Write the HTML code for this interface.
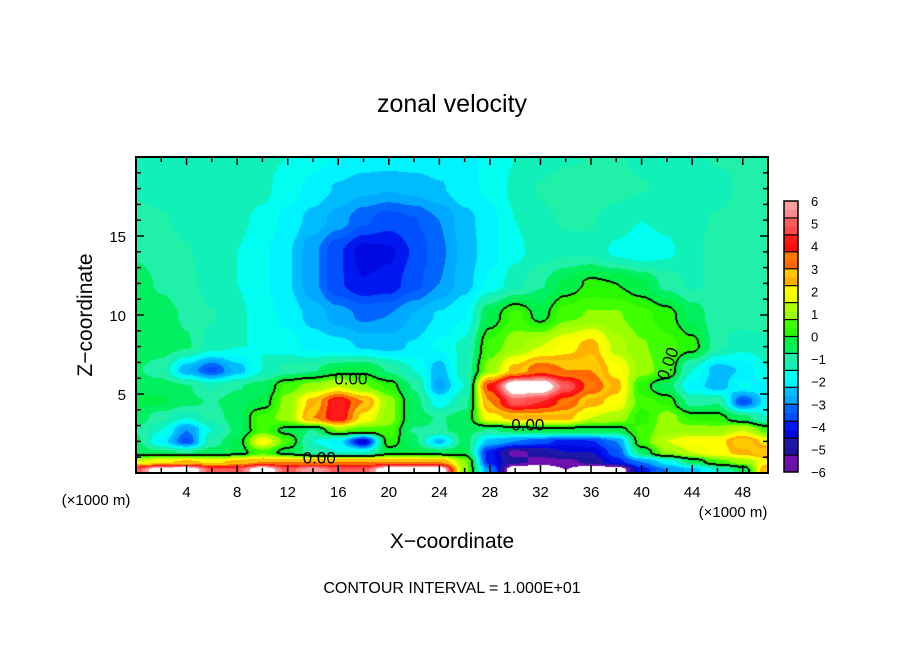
<!DOCTYPE html>
<html><head><meta charset="utf-8"><style>
html,body{margin:0;padding:0;background:#fff;width:904px;height:654px;overflow:hidden}
#wrap{position:relative;width:904px;height:654px;font-family:"Liberation Sans",sans-serif}
#field{position:absolute;left:136px;top:157px}
svg{position:absolute;left:0;top:0}
</style></head><body>
<div id="wrap">
<canvas id="field" width="632" height="316"></canvas>
<svg id="ov" width="904" height="654"></svg>
</div>
<script>
// ---- data ----
const xCoords = [0,2,4,6,8,10,12,14,16,18,20,22,24,26,28,30,32,34,36,38,40,42,44,46,48,50];
const zCoords = [20,18,16,14,12,10,8,6.5,5.5,4.5,3.5,2.7,2,1.3,0.7,0.2];
const row_z20 = [-1.2,-1.2,-1.2,-1.3,-1.3,-1.4,-1.5,-1.7,-1.9,-2,-2,-2,-2,-2,-1.8,-1.5,-1.3,-1.2,-1.1,-1.1,-1.2,-1.2,-1.2,-1.1,-1.1,-1.1];
const row_z18 = [-1.2,-1.2,-1.2,-1.3,-1.3,-1.4,-1.7,-2,-2.3,-2.5,-2.6,-2.5,-2.3,-2,-1.8,-1.4,-1.1,-0.9,-0.9,-1,-1.1,-1.2,-1.2,-1.2,-1.1,-1.1];
const row_z16 = [-1,-1.1,-1.2,-1.3,-1.4,-1.6,-2,-2.4,-2.8,-3.3,-3.6,-3.4,-3,-2.4,-2,-1.5,-1.2,-1.1,-1.1,-1.3,-1.5,-1.4,-1.2,-1.1,-1,-1];
const row_z14 = [-0.8,-0.9,-1.1,-1.3,-1.5,-1.8,-2.2,-2.9,-3.7,-4.3,-4.2,-3.7,-3.1,-2.5,-2,-1.6,-1.3,-1.2,-1.2,-1.6,-1.8,-1.6,-1.2,-1,-0.9,-1];
const row_z12 = [-0.6,-0.8,-1,-1.3,-1.5,-1.8,-2.2,-2.9,-3.7,-4.1,-4,-3.5,-3,-2.4,-1.8,-1.3,-0.8,-0.3,0.1,0,-0.3,-0.9,-1.2,-1,-0.8,-0.8];
const row_z10 = [-0.4,-0.6,-0.8,-1.1,-1.4,-1.7,-2,-2.4,-2.8,-3.1,-3,-2.6,-2.2,-1.9,-0.3,0.5,-0.2,0.6,0.8,0.8,0.5,0.2,-0.5,-1,-0.9,-0.8];
const row_z8 = [-0.4,-0.5,-0.7,-1.3,-1.5,-1.5,-1.7,-2,-2.1,-2.3,-2.4,-2.2,-1.8,-1.4,0.5,1,1.5,2,2.5,1.3,0.8,0.5,0.2,-1,-1.4,-1.3];
const row_z6_5 = [-0.7,-1,-2.6,-3.5,-2.5,-1.5,-1,-0.8,-0.3,-0.1,-0.8,-1.5,-2.5,-1.2,1,2.5,3.5,3,3,2,1,0.5,-1.5,-2.5,-2.2,-1.5];
const row_z5_5 = [-0.5,-0.5,-0.7,-1.2,-0.8,-0.5,0.5,1,1.5,0.8,0.3,-0.8,-2.8,-1.5,4,7,7,5,3.5,2.5,0.2,-0.5,-2,-2.5,-1.8,-2];
const row_z4_5 = [-0.3,-0.3,-0.6,-0.8,-0.5,-0.3,1,2.5,4.5,3,1,-0.5,-1.8,-1,3,5,4.5,3.5,2.5,2,0.5,0.3,-1,-0.8,-3.5,-2];
const row_z3_5 = [-0.5,-1,-1.5,-1,-0.5,0.5,1,3,4.5,2,1,-0.5,-0.8,-0.5,2,2.5,2.5,2.5,1.5,1.2,0.2,1,0.3,0.2,-0.5,-1.5];
const row_z2_7 = [-0.8,-1.5,-3,-1.5,-0.6,0.5,-0.2,-0.8,0.8,0.5,0.6,-0.8,-0.8,-0.6,-0.8,-0.5,-0.3,-0.3,-0.4,-0.3,0.5,1,1,1,1.5,0.5];
const row_z2 = [-0.6,-2,-3.5,-1,-0.3,2,0.5,-1.5,-2,-4.5,0.3,-0.6,-2.5,-0.5,-2.5,-3,-3.5,-4,-3.8,-3,0.5,1.5,2,2,3,2];
const row_z1_3 = [-0.4,-0.6,-0.8,-0.5,-0.3,0.5,-0.3,-1,-1.5,-1.5,-0.3,-0.3,-0.4,-0.3,-4,-5.5,-5,-4.5,-4.5,-3.5,-0.5,1,1.5,2,2.5,3];
const row_z0_7 = [1.5,2,2.5,2,2.5,3,3,3,3,3,3,3,3,1,-4,-5,-5.5,-5.5,-5,-4,-3,-2,-0.5,0.5,1,2];
const row_z0_2 = [5,7,7,5,5,7,5,6,5,5,7,7,7,1,-3,-7,-7,-6,-7,-7,-4,-3,-2.5,-1.5,-0.5,3];
const rows = [row_z20,row_z18,row_z16,row_z14,row_z12,row_z10,row_z8,row_z6_5,row_z5_5,row_z4_5,row_z3_5,row_z2_7,row_z2,row_z1_3,row_z0_7,row_z0_2];
const xTicks = [4,8,12,16,20,24,28,32,36,40,44,48];
const yTicks = [5,10,15];
const cbLabels = [6,5,4,3,2,1,0,-1,-2,-3,-4,-5,-6];

// ---- axes ----
const X0=136, X1=768, Y0=473, Y1=157;
const sx = x => X0 + (x/50)*(X1-X0);
const sy = z => Y0 - (z/20)*(Y0-Y1);

const binLo = ["#6a10a8","#1c14a0","#0008e0","#0050ff","#00a8ff","#00f4ff","#10f0b8","#00f060","#28f800","#98ff00","#f0ff00","#ffb000","#ff6800","#ff0c0c","#ff4848","#f88c8c"];
const binHi = ["#7010b0","#2018a8","#0018f0","#0064ff","#00bcff","#00fff0","#20f0a8","#00f048","#40ff00","#b0ff00","#ffff00","#ffc800","#ff7800","#ff1a1a","#ff5c5c","#f8a0a0"];
function hex(c){return [parseInt(c.substr(1,2),16),parseInt(c.substr(3,2),16),parseInt(c.substr(5,2),16)];}
const loRGB=binLo.map(hex), hiRGB=binHi.map(hex);
const BW=12/16;
function colorOf(v){ if(v>=6||v<-6) return [255,255,255]; const f=(v+6)/BW; let i=Math.max(0,Math.min(15,Math.floor(f))); return (f-i)<0.5?loRGB[i]:hiRGB[i]; }

function sample(x,z){
  let i=0; while(i<xCoords.length-2 && x>xCoords[i+1]) i++;
  let tx=(x-xCoords[i])/(xCoords[i+1]-xCoords[i]); tx=Math.max(0,Math.min(1,tx));
  let j=0; while(j<zCoords.length-2 && z<zCoords[j+1]) j++;
  let tz=(zCoords[j]-z)/(zCoords[j]-zCoords[j+1]); tz=Math.max(0,Math.min(1,tz));
  tx=tx*tx*(3-2*tx); tz=tz*tz*(3-2*tz);
  const a=rows[j][i], b=rows[j][i+1], c=rows[j+1][i], d=rows[j+1][i+1];
  return (a*(1-tx)+b*tx)*(1-tz)+(c*(1-tx)+d*tx)*tz;
}
const cv=document.getElementById('field'), ctx=cv.getContext('2d');
const W=cv.width,H=cv.height, img=ctx.createImageData(W,H);
const vals=new Float32Array(W*H);
for(let py=0;py<H;py++)for(let px=0;px<W;px++){
  const x=(px+0.5)/W*50, z=20-(py+0.5)/H*20; vals[py*W+px]=sample(x,z);
}
for(let py=0;py<H;py++)for(let px=0;px<W;px++){
  const v=vals[py*W+px]; let c=colorOf(v);
  const s=v>=0;
  let edge=false;
  if(px+1<W && (vals[py*W+px+1]>=0)!==s) edge=true;
  if(py+1<H && (vals[(py+1)*W+px]>=0)!==s) edge=true;
  if(px>0 && (vals[py*W+px-1]>=0)!==s) edge=true;
  if(py>0 && (vals[(py-1)*W+px]>=0)!==s) edge=true;
  if(edge) c=[0,0,0];
  const k=(py*W+px)*4; img.data[k]=c[0];img.data[k+1]=c[1];img.data[k+2]=c[2];img.data[k+3]=255;
}
ctx.putImageData(img,0,0);

// ---- SVG overlay ----
const NS='http://www.w3.org/2000/svg', svg=document.getElementById('ov');
function el(t,a,txt){const e=document.createElementNS(NS,t);for(const k in a)e.setAttribute(k,a[k]);if(txt!==undefined)e.textContent=txt;svg.appendChild(e);return e;}
const F='"Liberation Sans",sans-serif';

let fr=el('rect',{x:X0,y:Y1,width:X1-X0,height:Y0-Y1,fill:'none',stroke:'#000','stroke-width':2});



for(let x=2;x<50;x+=2){
  const L=(x%4===0)?8:5;
  const t1=el('line',{x1:sx(x),x2:sx(x),y1:Y0,y2:Y0-L,stroke:'#000','stroke-width':1.5});
  
  
  const t2=el('line',{x1:sx(x),x2:sx(x),y1:Y1,y2:Y1+L,stroke:'#000','stroke-width':1.5});
  
  
}
for(let z=1;z<20;z++){
  const L=(z%5===0)?8:5;
  const t1=el('line',{x1:X0,x2:X0+L,y1:sy(z),y2:sy(z),stroke:'#000','stroke-width':1.5});
  
  
  const t2=el('line',{x1:X1,x2:X1-L,y1:sy(z),y2:sy(z),stroke:'#000','stroke-width':1.5});
  
  
}
xTicks.forEach(x=>{
  const t=el('text',{x:sx(x),y:497,'font-family':F,'font-size':15,'text-anchor':'middle'},String(x));
  
  
});
yTicks.forEach(z=>{
  const t=el('text',{x:126,y:sy(z)+6,'font-family':F,'font-size':15,'text-anchor':'end'},String(z));
  
  
});
let t;
t=el('text',{x:452,y:112,'font-family':F,'font-size':25,'text-anchor':'middle'},'zonal velocity');


t=el('text',{x:452,y:548,'font-family':F,'font-size':21,'text-anchor':'middle'},'X\u2212coordinate');


t=el('text',{x:0,y:0,'font-family':F,'font-size':21,'text-anchor':'middle',transform:'translate(92,315) rotate(-90)'},'Z\u2212coordinate');


t=el('text',{x:96,y:505,'font-family':F,'font-size':15,'text-anchor':'middle'},'(\u00d71000 m)');


t=el('text',{x:733,y:517,'font-family':F,'font-size':15,'text-anchor':'middle'},'(\u00d71000 m)');


t=el('text',{x:452,y:593,'font-family':F,'font-size':16,'text-anchor':'middle'},'CONTOUR INTERVAL = 1.000E+01');



// contour labels
[[14.5,0.6,'0.00'],[31,2.7,'0.00'],[17,5.6,'0.00'],[42.5,6.8,'0.00']].forEach((p,i)=>{
  const a={x:sx(p[0]),y:sy(p[1]),'font-family':F,'font-size':17,'text-anchor':'middle'};
  if(i===3){a.transform='rotate(-70 '+sx(p[0])+' '+sy(p[1])+')';}
  const c=el('text',a,p[2]);
  
  
});

// colorbar
const CBX=784, CBW=14, CBT=201, CBB=472, step=(CBB-CBT)/16;
for(let i=0;i<16;i++){
  const y=CBB-(i+1)*step;
  const r1=el('rect',{x:CBX,y:y+step/2,width:CBW,height:step/2+0.3,fill:binLo[i]});
  
  
  const r2=el('rect',{x:CBX,y:y,width:CBW,height:step/2+0.3,fill:binHi[i]});
  
  
}
for(let k=1;k<16;k++){
  const l=el('line',{x1:CBX,x2:CBX+CBW,y1:CBT+k*step,y2:CBT+k*step,stroke:'#000','stroke-width':1.2});
  
  
}
const cbf=el('rect',{x:CBX,y:CBT,width:CBW,height:CBB-CBT,fill:'none',stroke:'#000','stroke-width':1.5});


cbLabels.forEach((v,i)=>{
  const lab=el('text',{x:811,y:CBT+i*(CBB-CBT)/12+5,'font-family':F,'font-size':13},v<0?'\u2212'+(-v):String(v));
  
  
});
</script>
</body></html>
